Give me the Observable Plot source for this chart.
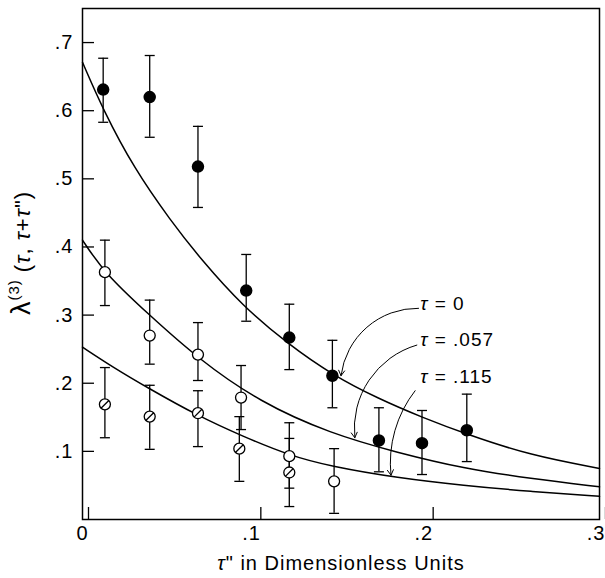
<!DOCTYPE html>
<html><head><meta charset="utf-8">
<script src="https://cdn.jsdelivr.net/npm/d3@7"></script>
<script src="https://cdn.jsdelivr.net/npm/@observablehq/plot@0.6"></script>
<style>body{margin:0;background:#fff} svg{display:block}</style>
</head><body><div id="chart"></div>
<script>
// ---- data: tau = 0 (filled)
const tau0X  = [0.012, 0.039, 0.067, 0.095, 0.120, 0.145, 0.172, 0.197, 0.223];
const tau0Y  = [0.631, 0.620, 0.518, 0.336, 0.267, 0.211, 0.116, 0.112, 0.131];
const tau0Lo = [0.583, 0.561, 0.458, 0.291, 0.220, 0.164, 0.070, 0.066, 0.085];
const tau0Hi = [0.677, 0.681, 0.577, 0.389, 0.316, 0.263, 0.164, 0.160, 0.184];
// ---- tau = .057 (open)
const tau057X  = [0.013, 0.039, 0.067, 0.092, 0.120, 0.146];
const tau057Y  = [0.363, 0.270, 0.242, 0.179, 0.093, 0.056];
const tau057Lo = [0.314, 0.228, 0.204, 0.132, 0.046, 0.009];
const tau057Hi = [0.410, 0.322, 0.289, 0.226, 0.142, 0.104];
// ---- tau = .115 (hatched)
const tau115X  = [0.013, 0.039, 0.067, 0.091, 0.120];
const tau115Y  = [0.169, 0.151, 0.156, 0.104, 0.069];
const tau115Lo = [0.120, 0.103, 0.107, 0.056, 0.019];
const tau115Hi = [0.223, 0.197, 0.189, 0.151, 0.119];
// ---- fitted curves
const curve0X = [0, 0.012, 0.030, 0.051, 0.069, 0.093, 0.119, 0.145, 0.172, 0.197, 0.223, 0.260, 0.300];
const curve0Y = [0.671, 0.601, 0.515, 0.439, 0.381, 0.313, 0.258, 0.212, 0.177, 0.150, 0.125, 0.094, 0.075];
const curve057X = [0, 0.013, 0.038, 0.067, 0.103, 0.144, 0.183, 0.221, 0.260, 0.300];
const curve057Y = [0.410, 0.361, 0.302, 0.236, 0.172, 0.126, 0.098, 0.075, 0.060, 0.048];
const curve115X = [0, 0.018, 0.038, 0.067, 0.093, 0.120, 0.144, 0.183, 0.221, 0.260, 0.300];
const curve115Y = [0.253, 0.223, 0.193, 0.152, 0.122, 0.094, 0.078, 0.061, 0.050, 0.041, 0.034];
// ---- axes
const xTicks = [0, 0.1, 0.2, 0.3];
const yTicks = [0.1, 0.2, 0.3, 0.4, 0.5, 0.6, 0.7];
const xLabel = "τ\" in Dimensionless Units";
const yLabel = "λ(3) (τ, τ+τ\")";
// ---- annotations
const annLabels = ["τ = 0", "τ = .057", "τ = .115"];
const annX = [0.196, 0.196, 0.196];
const annY = [0.317, 0.263, 0.209];
const arrowX1 = [0.195, 0.194, 0.193];
const arrowY1 = [0.310, 0.256, 0.189];
const arrowX2 = [0.150, 0.158, 0.179];
const arrowY2 = [0.211, 0.120, 0.065];
const arrowBend = [-42, -40, -22];

const pts = (X, Y, Lo, Hi) => X.map((x, i) => ({x, y: Y[i], lo: Lo[i], hi: Hi[i]}));
const crv = (X, Y) => X.map((x, i) => ({x, y: Y[i]}));
const d0 = pts(tau0X, tau0Y, tau0Lo, tau0Hi);
const d057 = pts(tau057X, tau057Y, tau057Lo, tau057Hi);
const d115 = pts(tau115X, tau115Y, tau115Lo, tau115Hi);
const allPts = [...d0, ...d057, ...d115];
const fmt = d => d === 0 ? "0" : d3.format(".1f")(d).replace(/^0/, "");

const capSymbol = {draw(ctx) { ctx.moveTo(-5, 0); ctx.lineTo(5, 0); }};
const hatchSymbol = {draw(ctx, size) {
  const r = Math.sqrt(size / Math.PI);
  ctx.moveTo(r, 0); ctx.arc(0, 0, r, 0, 2 * Math.PI);
  const a = r * 0.62;
  ctx.moveTo(-a, a); ctx.lineTo(a, -a);
}};

const ann = annLabels.map((t, i) => ({t, x: annX[i], y: annY[i]}));
const arrowMarks = arrowX1.map((_, i) => Plot.arrow([{x1: arrowX1[i], y1: arrowY1[i], x2: arrowX2[i], y2: arrowY2[i]}],
  {x1: "x1", y1: "y1", x2: "x2", y2: "y2", bend: arrowBend[i], stroke: "black", strokeWidth: 1, headLength: 9}));

const FONT = "'Liberation Sans', Arial, sans-serif";
const plot = Plot.plot({
  width: 605, height: 578,
  marginLeft: 82, marginRight: 6, marginTop: 8, marginBottom: 59,
  x: {domain: [0, 0.3]},
  y: {domain: [0, 0.75]},
  style: {fontFamily: FONT, fontSize: "20px", color: "black", background: "white", letterSpacing: "1px"},
  marks: [
    Plot.frame({stroke: "black", strokeWidth: 1.5}),
    Plot.axisY(yTicks, {tickSize: 12, insetLeft: 12, tickPadding: 9, tickFormat: fmt, strokeWidth: 1.3, fontSize: 20,
      label: yLabel, labelAnchor: "center", labelOffset: 68, labelArrow: "none"}),
    Plot.axisX(xTicks, {tickSize: 12, insetBottom: 12, tickPadding: 6, tickFormat: fmt, strokeWidth: 1.3, fontSize: 20,
      textAnchor: "end", dx: 6,
      label: xLabel, labelAnchor: "center", labelOffset: 50, labelArrow: "none"}),
    Plot.line(crv(curve0X, curve0Y), {x: "x", y: "y", curve: "basis", stroke: "black", strokeWidth: 1.5}),
    Plot.line(crv(curve057X, curve057Y), {x: "x", y: "y", curve: "basis", stroke: "black", strokeWidth: 1.5}),
    Plot.line(crv(curve115X, curve115Y), {x: "x", y: "y", curve: "basis", stroke: "black", strokeWidth: 1.5}),
    Plot.ruleX(allPts, {x: "x", y1: "lo", y2: "hi", stroke: "black", strokeWidth: 1.3}),
    Plot.dot(allPts, {x: "x", y: "lo", symbol: capSymbol, r: 5, fill: "none", stroke: "black", strokeWidth: 1.3}),
    Plot.dot(allPts, {x: "x", y: "hi", symbol: capSymbol, r: 5, fill: "none", stroke: "black", strokeWidth: 1.3}),
    Plot.dot(d0, {x: "x", y: "y", r: 5.5, fill: "black", stroke: "black"}),
    Plot.dot(d057, {x: "x", y: "y", r: 5.5, fill: "white", stroke: "black", strokeWidth: 1.3}),
    Plot.dot(d115, {x: "x", y: "y", r: 5.5, symbol: hatchSymbol, fill: "white", stroke: "black", strokeWidth: 1.3}),
    ...arrowMarks,
    Plot.text(ann, {x: "x", y: "y", text: "t", textAnchor: "start", fill: "black", fontSize: 19})
  ]
});

// rich text: italic tau, superscript
const svgNS = "http://www.w3.org/2000/svg";
function rich(el, parts) {
  while (el.firstChild) el.removeChild(el.firstChild);
  for (const p of parts) {
    const ts = document.createElementNS(svgNS, "tspan");
    ts.textContent = p.t;
    if (p.it) ts.setAttribute("font-style", "italic");
    if (p.size) ts.setAttribute("font-size", p.size);
    if (p.dy) ts.setAttribute("dy", p.dy);
    el.appendChild(ts);
  }
}
function italicTau(el) {
  const s = el.textContent;
  const parts = [];
  for (const seg of s.split(/(τ)/)) if (seg) parts.push({t: seg, it: seg === "τ"});
  rich(el, parts);
}
const xl = plot.querySelector('g[aria-label="x-axis label"] text');
if (xl) italicTau(xl);
const yl = plot.querySelector('g[aria-label="y-axis label"] text');
if (yl) {
  yl.setAttribute("font-size", 22);
  rich(yl, [
    {t: "λ", size: 27}, {t: "(3)", size: 15, dy: -11}, {t: " (", dy: 11},
    {t: "τ", it: true}, {t: ", "}, {t: "τ", it: true}, {t: "+"}, {t: "τ", it: true}, {t: "\")"}
  ]);
  yl.setAttribute("dx", 11);
}
plot.querySelectorAll('g[aria-label="text"] text').forEach(italicTau);

document.getElementById("chart").appendChild(plot);
</script>
</body></html>
